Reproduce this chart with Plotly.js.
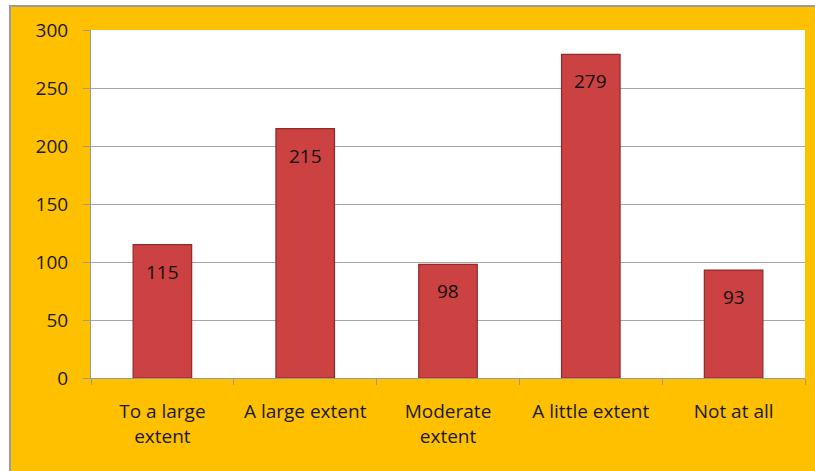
<!DOCTYPE html>
<html>
<head>
<meta charset="utf-8">
<script src="https://cdn.plot.ly/plotly-3.0.1.min.js"></script>
<style>
  html, body { margin: 0; padding: 0; background: #ffffff; overflow: hidden; }
  #frame {
    position: absolute; left: 9px; top: 5px;
    width: 806px; height: 466px;
    border-left: 2px solid #9a9a9a; border-top: 2px solid #9a9a9a;
    background: #FFC000;
  }
  #chart { width: 806px; height: 466px; }
</style>
</head>
<body>
<div id="frame"><div id="chart"></div></div>
<script>
// Responses per extent category
const categories = ["To a large<br>extent", "A large extent", "Moderate<br>extent", "A little extent", "Not at all"];
const counts = [115, 215, 98, 279, 93];
const yTicks = [0, 50, 100, 150, 200, 250, 300];

const font = "'Open Sans', 'DejaVu Sans', sans-serif";

const trace = {
  type: "bar",
  x: categories,
  y: counts,
  marker: { color: "#CC4141", line: { color: "#8E2A2A", width: 1.2 } },
  hoverinfo: "none"
};

// Value labels sit just inside the top of each bar
const valueLabels = categories.map((c, i) => ({
  x: c, y: counts[i], xref: "x", yref: "y",
  text: String(counts[i]),
  showarrow: false,
  yanchor: "top", yshift: -12,
  font: { family: font, size: 19, color: "#111111" }
}));

const layout = {
  width: 806, height: 466,
  margin: { l: 80, r: 12, t: 23, b: 95 },
  paper_bgcolor: "#FFC000",
  plot_bgcolor: "#ffffff",
  bargap: 0.59,
  showlegend: false,
  font: { family: font, size: 19, color: "#1a1a1a" },
  annotations: valueLabels,
  xaxis: {
    type: "category",
    tickson: "boundaries",
    ticks: "outside", ticklen: 6, tickcolor: "#999999",
    showline: true, linecolor: "#999999", linewidth: 1,
    showgrid: false,
    tickfont: { family: font, size: 19, color: "#1a1a1a" },
    ticklabelstandoff: 16
  },
  yaxis: {
    range: [0, 300],
    tickvals: yTicks,
    ticks: "outside", ticklen: 7, tickcolor: "#999999",
    showline: true, linecolor: "#999999", linewidth: 1,
    showgrid: true, gridcolor: "#a6a6a6", gridwidth: 1,
    zeroline: false,
    tickfont: { family: font, size: 19, color: "#1a1a1a" },
    ticklabelstandoff: 11
  }
};

Plotly.newPlot("chart", [trace], layout, { displayModeBar: false, staticPlot: true });
</script>
</body>
</html>
